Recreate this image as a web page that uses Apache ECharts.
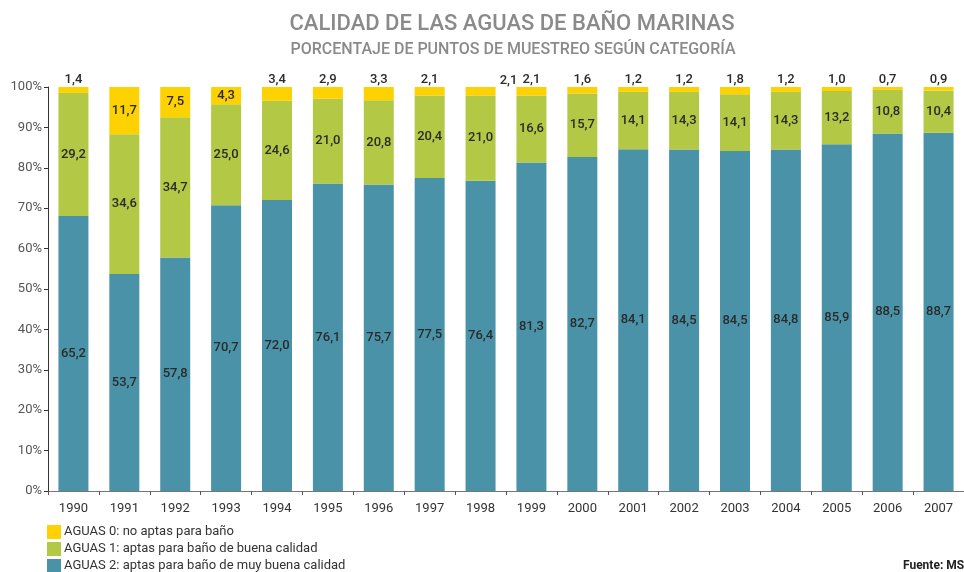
<!DOCTYPE html>
<html><head><meta charset="utf-8">
<script src="https://cdn.jsdelivr.net/npm/echarts@6/dist/echarts.min.js"></script>
<style>html,body{margin:0;padding:0;background:#fff}#c{width:964px;height:572px}</style>
</head><body><div id="c"></div>
<script>
const years = ['1990','1991','1992','1993','1994','1995','1996','1997','1998','1999','2000','2001','2002','2003','2004','2005','2006','2007'];
const aguas0 = [1.4,11.7,7.5,4.3,3.4,2.9,3.3,2.1,2.1,2.1,1.6,1.2,1.2,1.8,1.2,1.0,0.7,0.9];
const aguas1 = [29.2,34.6,34.7,25.0,24.6,21.0,20.8,20.4,21.0,16.6,15.7,14.1,14.3,14.1,14.3,13.2,10.8,10.4];
const aguas2 = [65.2,53.7,57.8,70.7,72.0,76.1,75.7,77.5,76.4,81.3,82.7,84.1,84.5,84.5,84.8,85.9,88.5,88.7];
const seriesNames = ['AGUAS 0: no aptas para baño','AGUAS 1: aptas para baño de buena calidad','AGUAS 2: aptas para baño de muy buena calidad'];
const yTickMax = 100, yTickStep = 10;

const totals = years.map((_, i) => aguas0[i] + aguas1[i] + aguas2[i]);
const share = arr => arr.map((v, i) => v / totals[i] * 100);
const fmt = v => v.toFixed(1).replace('.', ',');
const FONT = 'Roboto';
const lblBase = {show: true, color: '#2b2b2b', fontFamily: FONT, fontWeight: 500, fontSize: 13};

const chart = echarts.init(document.getElementById('c'), null, {renderer: 'canvas'});
const mk = (name, arr, color, labelFor) => ({
  name, type: 'bar', stack: 'all', barWidth: 30, itemStyle: {color},
  data: share(arr).map((v, i) => ({value: v, label: Object.assign({}, lblBase, {formatter: fmt(arr[i])}, labelFor(arr[i], i))})),
  emphasis: {disabled: true}
});
chart.setOption({
  animation: false,
  title: [
    {text: 'CALIDAD DE LAS AGUAS DE BAÑO MARINAS', left: 507, top: 8, textAlign: 'center',
     textStyle: {color: '#8a8a8a', fontFamily: FONT, fontWeight: 500, fontSize: 22}},
    {text: 'PORCENTAJE DE PUNTOS DE MUESTREO SEGÚN CATEGORÍA', left: 508, top: 37, textAlign: 'center',
     textStyle: {color: '#8a8a8a', fontFamily: FONT, fontWeight: 500, fontSize: 16}}
  ],
  legend: {
    orient: 'vertical', left: 47, top: 525, padding: 0, height: 60, itemWidth: 14, itemHeight: 14, itemGap: 3,
    icon: 'rect', selectedMode: false,
    data: seriesNames,
    textStyle: {color: '#333', fontFamily: FONT, fontSize: 13, padding: [0, 0, 0, -2]}
  },
  graphic: [{type: 'text', right: -8, bottom: 0,
    style: {text: 'Fuente: MSC', fill: '#222', font: 'bold 12px Roboto'}}],
  grid: {left: 48, right: -7, top: 87, bottom: 81, containLabel: false},
  xAxis: {
    type: 'category', data: years, boundaryGap: true,
    axisLine: {lineStyle: {color: '#777', width: 1}},
    axisTick: {show: true, length: 4, lineStyle: {color: '#555'}},
    axisLabel: {color: '#333', fontFamily: FONT, fontSize: 13, margin: 11}
  },
  yAxis: {
    type: 'value', min: 0, max: yTickMax, interval: yTickStep,
    axisLine: {show: true, lineStyle: {color: '#333', width: 1}},
    axisTick: {show: true, length: 4, lineStyle: {color: '#333'}},
    axisLabel: {formatter: '{value}%', color: '#555', fontFamily: FONT, fontSize: 13, margin: 6},
    splitLine: {show: false}
  },
  series: [
    mk(seriesNames[2], aguas2, '#4A92A8', () => ({position: 'inside'})),
    mk(seriesNames[1], aguas1, '#B3C845', () => ({position: 'inside'})),
    mk(seriesNames[0], aguas0, '#FDD200', (v, i) => {
      if (v >= 4) return {position: 'inside'};
      if (years[i] === '1998') return {position: 'top', distance: 0, offset: [28, 0]};
      return {position: 'top', distance: 1};
    })
  ]
});
</script></body></html>
